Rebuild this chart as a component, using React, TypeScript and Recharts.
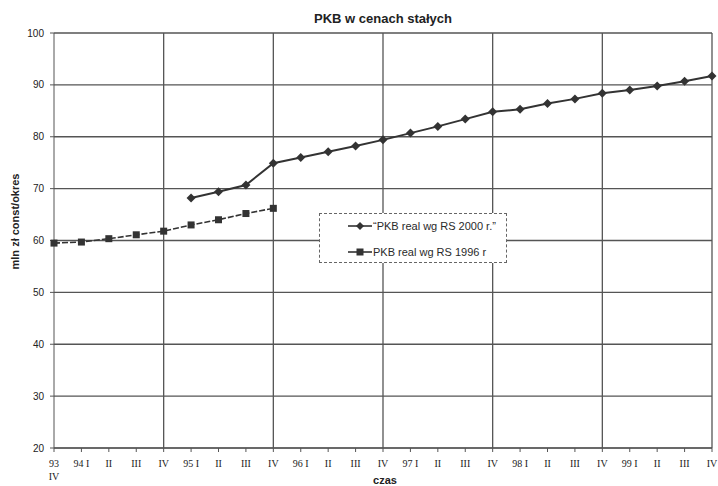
import { LineChart, Line, XAxis, YAxis, CartesianGrid, ReferenceLine } from "recharts";

// quarters on the category axis (unique keys), and how they are printed
const quarters = [
  "93 IV",
  "94 I", "94 II", "94 III", "94 IV",
  "95 I", "95 II", "95 III", "95 IV",
  "96 I", "96 II", "96 III", "96 IV",
  "97 I", "97 II", "97 III", "97 IV",
  "98 I", "98 II", "98 III", "98 IV",
  "99 I", "99 II", "99 III", "99 IV",
];
const tickLabels = [
  "93 IV",
  "94 I", "II", "III", "IV",
  "95 I", "II", "III", "IV",
  "96 I", "II", "III", "IV",
  "97 I", "II", "III", "IV",
  "98 I", "II", "III", "IV",
  "99 I", "II", "III", "IV",
];
const yearEnds = ["94 IV", "95 IV", "96 IV", "97 IV", "98 IV", "99 IV"];
const yTicks = [20, 30, 40, 50, 60, 70, 80, 90, 100];

// PKB real wg RS 2000 r. (from 95 I)
const rs2000 = [
  null, null, null, null, null,
  68.2, 69.4, 70.7, 74.9,
  76.0, 77.1, 78.2, 79.4,
  80.7, 82.0, 83.4, 84.8,
  85.3, 86.4, 87.3, 88.4,
  89.0, 89.8, 90.7, 91.7,
];
// PKB real wg RS 1996 r (up to 95 IV)
const rs1996 = [
  59.5,
  59.7, 60.35, 61.1, 61.8,
  63.0, 64.0, 65.2, 66.2,
  null, null, null, null,
  null, null, null, null,
  null, null, null, null,
  null, null, null, null,
];

const data = quarters.map((q, i) => ({ q, rs2000: rs2000[i], rs1996: rs1996[i] }));

const INK = "#333";
const GRID = "#555";
const sans = "'Liberation Sans', Arial, sans-serif";
const serif = "'Liberation Serif', 'Times New Roman', serif";

const diamond = (props: any) => {
  const { cx, cy, index } = props;
  if (cx == null || cy == null) return <g key={`d${index}`} />;
  return (
    <path
      key={`d${index}`}
      d={`M${cx},${cy - 4.5}L${cx + 4.5},${cy}L${cx},${cy + 4.5}L${cx - 4.5},${cy}Z`}
      fill={INK}
    />
  );
};

const square = (props: any) => {
  const { cx, cy, index } = props;
  if (cx == null || cy == null) return <g key={`s${index}`} />;
  return <rect key={`s${index}`} x={cx - 3.5} y={cy - 3.5} width={7} height={7} fill={INK} />;
};

const XTick = ({ x, y, payload }: any) => {
  const label = tickLabels[payload.index] ?? payload.value;
  const style = { fontFamily: serif, fontSize: 10, fill: "#222" };
  if (payload.index === 0) {
    const [a, b] = label.split(" ");
    return (
      <g>
        <text x={x} y={y} dy={13} textAnchor="middle" style={style}>{a}</text>
        <text x={x} y={y} dy={26} textAnchor="middle" style={style}>{b}</text>
      </g>
    );
  }
  return (
    <text x={x} y={y} dy={13} textAnchor="middle" style={style}>{label}</text>
  );
};

const series = [
  { name: "\u201CPKB real wg RS 2000 r.\u201D", marker: "diamond" },
  { name: "PKB real wg RS 1996 r", marker: "square" },
];

function LegendBox() {
  return (
    <div
      style={{
        position: "absolute",
        left: 319,
        top: 213,
        width: 188,
        height: 50,
        boxSizing: "border-box",
        border: "1px dashed #666",
        background: "#fff",
        fontFamily: sans,
        fontSize: 11,
        color: "#2a2a2a",
      }}
    >
      {series.map((s, i) => (
        <div
          key={s.name}
          style={{ position: "absolute", left: 28, top: i === 0 ? 5 : 31, display: "flex", alignItems: "center", height: 14 }}
        >
          <svg width={24} height={10} style={{ marginRight: 1 }}>
            <line x1={0} y1={5} x2={24} y2={5} stroke={INK} strokeWidth={1.6} />
            {s.marker === "diamond" ? (
              <path d="M12,1L16,5L12,9L8,5Z" fill={INK} />
            ) : (
              <rect x={8.5} y={1.5} width={7} height={7} fill={INK} />
            )}
          </svg>
          <span>{s.name}</span>
        </div>
      ))}
    </div>
  );
}

export default function App() {
  return (
    <div style={{ position: "absolute", left: 0, top: 0, width: 718, height: 486, background: "#fff" }}>
      <div
        style={{
          position: "absolute",
          left: 54,
          top: 11,
          width: 658,
          textAlign: "center",
          fontFamily: sans,
          fontWeight: "bold",
          fontSize: 13,
          color: "#222",
        }}
      >
        PKB w cenach stałych
      </div>
      <LineChart width={718} height={486} data={data} margin={{ top: 33, right: 6, left: 0, bottom: 0 }}>
        <CartesianGrid vertical={false} stroke={GRID} strokeWidth={1.3} />
        {yearEnds.map((q) => (
          <ReferenceLine key={q} x={q} stroke={GRID} strokeWidth={1.3} />
        ))}
        <XAxis
          dataKey="q"
          interval={0}
          height={38}
          tickSize={4}
          tickMargin={2}
          stroke={GRID}
          tick={<XTick />}
          label={{ value: "czas", position: "insideBottom", offset: 2, dx: 2, style: { fontFamily: sans, fontWeight: "bold", fontSize: 11, fill: "#222" } }}
        />
        <YAxis
          width={54}
          domain={[20, 100]}
          ticks={yTicks}
          interval={0}
          tickSize={4}
          tickMargin={6}
          stroke={GRID}
          tick={{ fontFamily: sans, fontSize: 10, fill: "#222" }}
          label={(p: any) => {
            const vb = p.viewBox;
            const cy = vb.y + vb.height / 2 - 19;
            return (
              <text
                x={15}
                y={cy}
                transform={`rotate(-90 15 ${cy})`}
                textAnchor="middle"
                dominantBaseline="central"
                style={{ fontFamily: sans, fontWeight: "bold", fontSize: 11, fill: "#222" }}
              >
                mln zł const/okres
              </text>
            );
          }}
        />
        <Line
          dataKey="rs1996"
          name={series[1].name}
          stroke={INK}
          strokeWidth={1.6}
          strokeDasharray="6 2"
          dot={square}
          activeDot={false}
          connectNulls={false}
          isAnimationActive={false}
        />
        <Line
          dataKey="rs2000"
          name={series[0].name}
          stroke={INK}
          strokeWidth={2}
          dot={diamond}
          activeDot={false}
          connectNulls={false}
          isAnimationActive={false}
        />
      </LineChart>
      <LegendBox />
    </div>
  );
}
